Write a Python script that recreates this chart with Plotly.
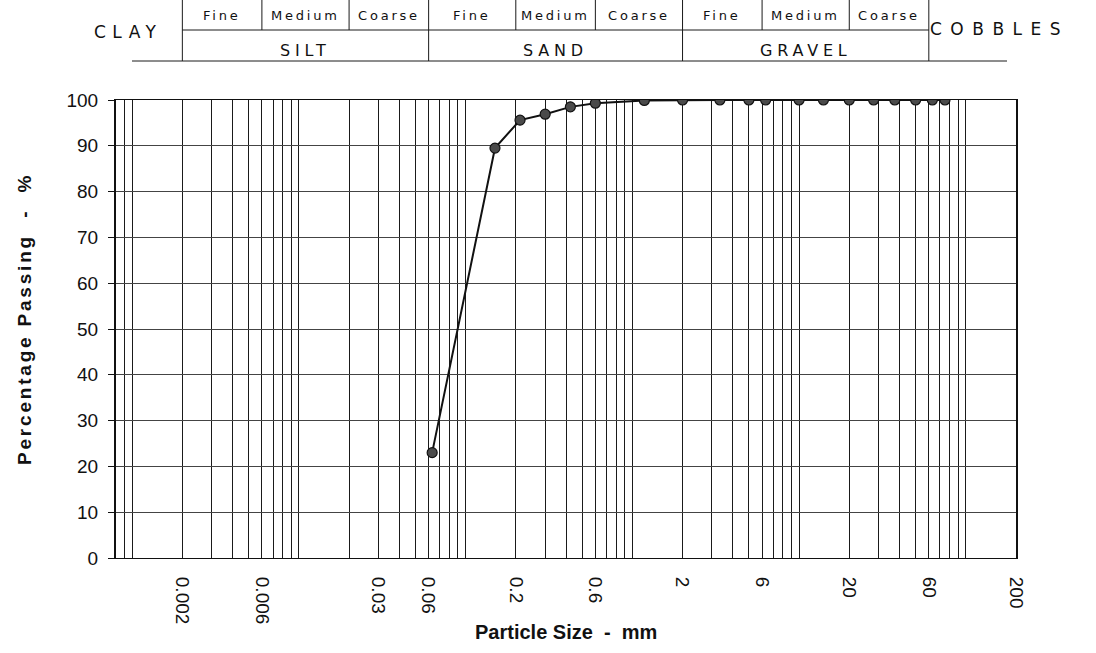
import math
import plotly.graph_objects as go

# Particle size distribution (sieve analysis)
sieve_mm = [0.063, 0.15, 0.212, 0.3, 0.425, 0.6, 1.18, 2, 3.35, 5, 6.3,
            10, 14, 20, 28, 37.5, 50, 63, 75]
passing_pct = [23.0, 89.5, 95.6, 96.9, 98.5, 99.3, 99.9, 100, 100, 100, 100,
               100, 100, 100, 100, 100, 100, 100, 100]

# Axis ticks
x_tick_vals = [0.002, 0.006, 0.03, 0.06, 0.2, 0.6, 2, 6, 20, 60, 200]
x_tick_text = ["0.002", "0.006", "0.03", "0.06", "0.2", "0.6", "2", "6", "20", "60", "200"]
y_tick_vals = [0, 10, 20, 30, 40, 50, 60, 70, 80, 90, 100]
x_min_mm, x_max_mm = 0.0008, 200

# Soil classification header (limits in mm)
main_bounds = [0.002, 0.06, 2, 60]
main_names = ["SILT", "SAND", "GRAVEL"]
sub_bounds = [0.002, 0.006, 0.02, 0.06, 0.2, 0.6, 2, 6, 20, 60]
sub_names = ["Fine", "Medium", "Coarse", "Fine", "Medium", "Coarse", "Fine", "Medium", "Coarse"]

# log-grid lines: 1..9 x 10^n inside the axis range
grid_vals = []
for e in range(-4, 3):
    for m in range(1, 10):
        v = m * 10 ** e
        if x_min_mm < v * 1.0001 and v < x_max_mm * 0.9999:
            grid_vals.append(v)

W, H = 1096, 653
ML, MR, MT, MB = 116, 80, 100, 95
PW, PH = W - ML - MR, H - MT - MB


def py(pix):
    """pixel row -> paper y"""
    return (H - MB - pix) / PH


def px(pix):
    """pixel column -> paper x"""
    return (pix - ML) / PW


AX_FONT = "Liberation Sans, Arial, sans-serif"
HD_FONT = "DejaVu Sans, Arial, sans-serif"
LINE = "#1a1a1a"

fig = go.Figure()
fig.add_trace(go.Scatter(
    x=sieve_mm, y=passing_pct, mode="lines+markers",
    line=dict(color="#111", width=2),
    marker=dict(size=10, color="#4a4a4a", line=dict(color="#111", width=1.2)),
    showlegend=False, hoverinfo="x+y",
))

shapes = []
# header: vertical separators (shape x on the log axis takes the raw value)
for b in main_bounds:
    shapes.append(dict(type="line", xref="x", yref="paper",
                       x0=b, x1=b, y0=py(61), y1=py(-5),
                       line=dict(color=LINE, width=1)))
for b in sub_bounds:
    if b in main_bounds:
        continue
    shapes.append(dict(type="line", xref="x", yref="paper",
                       x0=b, x1=b, y0=py(30), y1=py(-5),
                       line=dict(color=LINE, width=1)))
# header: horizontal rules
shapes.append(dict(type="line", xref="x", yref="paper",
                   x0=main_bounds[0], x1=main_bounds[-1],
                   y0=py(30), y1=py(30), line=dict(color=LINE, width=1)))
shapes.append(dict(type="line", xref="paper", yref="paper",
                   x0=px(132), x1=px(1007), y0=py(61), y1=py(61),
                   line=dict(color=LINE, width=1)))

annotations = []


def spaced(text, ls):
    return f'<span style="letter-spacing:{ls}px">{text}</span>'


for i, name in enumerate(sub_names):
    lo, hi = math.log10(sub_bounds[i]), math.log10(sub_bounds[i + 1])
    annotations.append(dict(x=(lo + hi) / 2, y=py(15), xref="x", yref="paper",
                            text=spaced(name, 2.8), showarrow=False,
                            font=dict(family=HD_FONT, size=13, color="#111"),
                            xanchor="center", yanchor="middle"))
for i, name in enumerate(main_names):
    lo, hi = math.log10(main_bounds[i]), math.log10(main_bounds[i + 1])
    annotations.append(dict(x=(lo + hi) / 2, y=py(50), xref="x", yref="paper",
                            text=spaced(name, 4.8), showarrow=False,
                            font=dict(family=HD_FONT, size=16, color="#111"),
                            xanchor="center", yanchor="middle"))
annotations.append(dict(x=px(128), y=py(32), xref="paper", yref="paper",
                        text=spaced("CLAY", 6.5), showarrow=False,
                        font=dict(family=HD_FONT, size=17, color="#111"),
                        xanchor="center", yanchor="middle"))
annotations.append(dict(x=px(999), y=py(29), xref="paper", yref="paper",
                        text=spaced("COBBLES", 8.5), showarrow=False,
                        font=dict(family=HD_FONT, size=17, color="#111"),
                        xanchor="center", yanchor="middle"))

# axis titles
annotations.append(dict(x=0.5, y=py(632), xref="paper", yref="paper",
                        text="<b>Particle Size  -  mm</b>", showarrow=False,
                        font=dict(family=AX_FONT, size=20, color="#111"),
                        xanchor="center", yanchor="middle"))
annotations.append(dict(x=px(24), y=py(319), xref="paper", yref="paper",
                        text="<b>" + spaced("Percentage Passing  -  %", 2.8) + "</b>",
                        showarrow=False, textangle=-90,
                        font=dict(family=AX_FONT, size=19, color="#111"),
                        xanchor="center", yanchor="middle"))

fig.update_layout(
    width=W, height=H,
    margin=dict(l=ML, r=MR, t=MT, b=MB),
    paper_bgcolor="white", plot_bgcolor="white",
    shapes=shapes, annotations=annotations,
    xaxis=dict(
        type="log", range=[math.log10(x_min_mm), math.log10(x_max_mm)],
        tickvals=x_tick_vals, ticktext=x_tick_text, tickangle=90,
        ticks="", ticklabelstandoff=14,
        tickfont=dict(family=AX_FONT, size=19, color="#111"),
        showgrid=True, gridcolor=LINE, gridwidth=1,
        minor=dict(tickvals=grid_vals, showgrid=True, gridcolor=LINE, gridwidth=1, ticks=""),
        showline=True, linecolor="#111", linewidth=1, mirror=True,
        zeroline=False,
    ),
    yaxis=dict(
        range=[0, 100], tickvals=y_tick_vals,
        ticks="outside", ticklen=6, tickcolor="#111", tickwidth=1,
        ticklabelstandoff=6,
        tickfont=dict(family=AX_FONT, size=19, color="#111"),
        showgrid=True, gridcolor="#444", gridwidth=1,
        showline=True, linecolor="#111", linewidth=2, mirror=True,
        zeroline=False,
    ),
)

fig.write_html("out.html")
